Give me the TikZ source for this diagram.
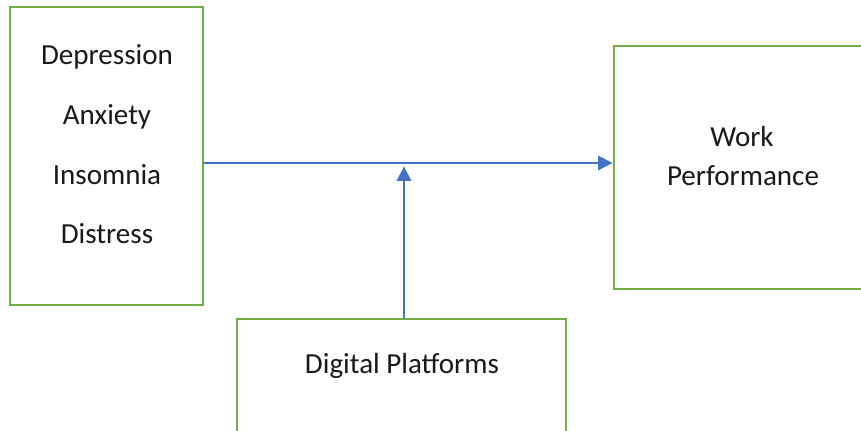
\documentclass[tikz,border=0pt]{standalone}
\usepackage{fontspec}
\setmainfont{Carlito}
\usetikzlibrary{arrows.meta}
\definecolor{boxgreen}{HTML}{70AD47}
\definecolor{flowblue}{HTML}{4472C4}
\begin{document}
\begin{tikzpicture}[x=0.75pt,y=-0.75pt,
    box/.style={rectangle,draw=boxgreen,line width=1.8pt,fill=none,inner sep=0pt},
    lbl/.style={font=\fontsize{21.8}{26}\selectfont,text=black!90,inner sep=0pt,anchor=base},
    flow/.style={draw=flowblue,line width=1.9pt,-{Triangle[length=11pt,width=10.5pt]}}]
        \useasboundingbox (0,0) rectangle (861,430);
        \clip (0,0) rectangle (861,430);

        \node[box,minimum width=144.75pt,minimum height=223.5pt] (causes) at (106.5,156) {};
        \node[box,minimum width=199.5pt,minimum height=182.25pt] (work) at (747,167.5) {};
        \node[box,minimum width=246.75pt,minimum height=98.25pt] (digital) at (401.5,384.5) {};

        \node[lbl] (dep) at (107,64) {Depression};
        \node[lbl] (anx) at (107,124) {Anxiety};
        \node[lbl] (ins) at (107,184) {Insomnia};
        \node[lbl] (dis) at (107,243) {Distress};
        \node[lbl] (wrk) at (742,146) {Work};
        \node[lbl] (perf) at (743,185) {Performance};
        \node[lbl] (plat) at (402,373) {Digital Platforms};

        \coordinate (mid) at (404,163);
        \draw[flow] (causes.east |- mid) -- (work.west |- mid);
        \draw[flow,shorten >=2.4pt] (digital.north -| mid) -- (mid);
    \end{tikzpicture}
\end{document}
